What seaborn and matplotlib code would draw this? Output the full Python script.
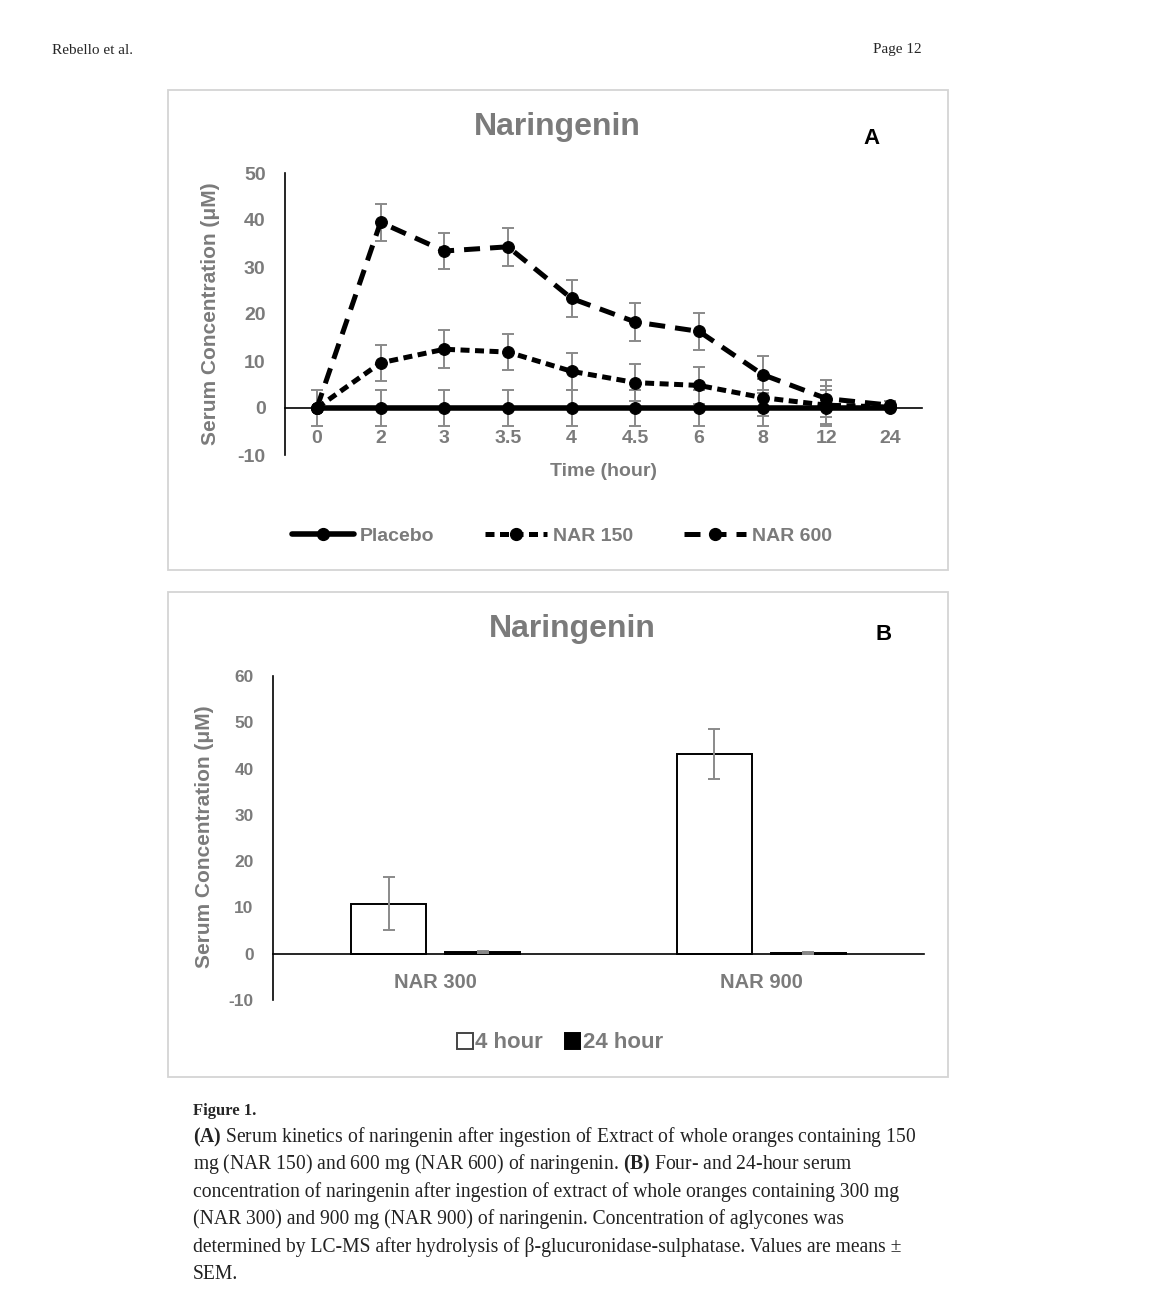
import numpy as np
import pandas as pd
import matplotlib
matplotlib.use("Agg")
import matplotlib.pyplot as plt
import seaborn as sns
from matplotlib.patches import Rectangle, Patch
from matplotlib.lines import Line2D

# ---- Data: panel A (serum kinetics) ----
time_labels = ["0", "2", "3", "3.5", "4", "4.5", "6", "8", "12", "24"]
placebo = [0, 0, 0, 0, 0, 0, 0, 0, 0, 0]
placebo_sem = [3.8, 3.8, 3.8, 3.8, 3.8, 3.8, 3.8, 3.8, 3.8, 0.3]
nar150 = [0, 9.6, 12.5, 11.9, 7.8, 5.4, 4.8, 2.2, 0.6, 0.2]
nar150_sem = [0, 3.9, 4.0, 3.9, 4.0, 3.9, 4.0, 4.0, 4.0, 0.5]
nar600 = [0, 39.5, 33.4, 34.3, 23.3, 18.3, 16.3, 7.1, 2.0, 0.6]
nar600_sem = [0, 3.9, 3.9, 4.0, 4.0, 4.0, 4.0, 4.0, 4.0, 0.8]

# ---- Data: panel B (4 h / 24 h) ----
doses = ["NAR 300", "NAR 900"]
hours = ["4 hour", "24 hour"]
conc_4h = [10.8, 43.2]
sem_4h = [5.7, 5.4]
conc_24h = [0.3, 0.2]
sem_24h = [0.2, 0.2]

W, H = 1152, 1295
GRAY = "#7b7b7b"
SANS = "Liberation Sans"
SERIF = "Liberation Serif"

sns.set_style("white")
plt.rcParams["font.family"] = [SANS, "DejaVu Sans"]
plt.rcParams["axes.unicode_minus"] = False
plt.rcParams["mathtext.fontset"] = "custom"
plt.rcParams["mathtext.rm"] = SERIF
plt.rcParams["mathtext.bf"] = SERIF + ":bold"


def fx(x):
    return x / W


def fy(y):
    return 1 - y / H


fig = plt.figure(figsize=(W / 100, H / 100), dpi=100)

# page header
fig.text(fx(52), fy(50), "Rebello et al.", family=SERIF, fontsize=11, va="center", ha="left")
fig.text(fx(922), fy(50), "Page 12", family=SERIF, fontsize=11, va="center", ha="right")

# panel frames
for top, bot in [(90, 570), (592, 1077)]:
    fig.add_artist(Rectangle((fx(168), fy(bot)), fx(948) - fx(168), fy(top) - fy(bot),
                             transform=fig.transFigure, fill=False,
                             edgecolor="#d4d4d4", lw=1.3))

# ---- Panel A ----
axA = fig.add_axes([fx(285), fy(455), fx(922) - fx(285), fy(173) - fy(455)])
series = [
    ("Placebo", placebo, placebo_sem, "-", 4.0),
    ("NAR 150", nar150, nar150_sem, (0, (1.8, 1.1)), 3.6),
    ("NAR 600", nar600, nar600_sem, (0, (3.2, 2.0)), 3.6),
]
handles = []
for name, vals, sem, ls, lw in series:
    axA.errorbar(time_labels, vals, yerr=sem, fmt="none", ecolor="#8a8a8a",
                 elinewidth=1.4, capsize=4, capthick=1.4, zorder=1)
for name, vals, sem, ls, lw in series:
    sns.lineplot(x=time_labels, y=vals, ax=axA, color="black", lw=lw, linestyle=ls,
                 marker="o", markersize=8.5, markeredgecolor="black", sort=False,
                 zorder=3)
    handles.append(Line2D([], [], color="black", lw=lw, linestyle=ls,
                          marker="o", markersize=8.5, label=name))

axA.set_xlim(-0.5, 9.5)
axA.set_ylim(-10, 50)
axA.set_yticks([-10, 0, 10, 20, 30, 40, 50])
axA.spines["top"].set_visible(False)
axA.spines["right"].set_visible(False)
axA.spines["bottom"].set_position(("data", 0))
for s in ["left", "bottom"]:
    axA.spines[s].set_color("black")
    axA.spines[s].set_linewidth(1.2)
axA.tick_params(axis="y", length=0, pad=14, labelsize=14, labelcolor=GRAY)
axA.tick_params(axis="x", length=0, pad=15.5, labelsize=14, labelcolor=GRAY)
for lab in axA.get_xticklabels() + axA.get_yticklabels():
    lab.set_fontweight("bold")
axA.set_xlabel("")
axA.set_ylabel("")

fig.text(fx(557), fy(127), "Naringenin", fontsize=23, fontweight="bold", color=GRAY,
         ha="center", va="center")
fig.text(fx(872), fy(138), "A", fontsize=16, fontweight="bold", color="black",
         ha="center", va="center")
fig.text(fx(211), fy(314), "Serum Concentration (μM)", fontsize=15, fontweight="bold",
         color=GRAY, rotation=90, ha="center", va="center")
fig.text(fx(603), fy(472), "Time (hour)", fontsize=14, fontweight="bold", color=GRAY,
         ha="center", va="center")
legA = fig.legend(handles=handles, loc="center", bbox_to_anchor=(fx(562), fy(536)),
                  ncol=3, frameon=False, handlelength=3.2, handletextpad=0.3,
                  columnspacing=2.6, prop={"family": SANS, "weight": "bold", "size": 14})
for t in legA.get_texts():
    t.set_color(GRAY)

# ---- Panel B ----
axB = fig.add_axes([fx(273), fy(1000), fx(924) - fx(273), fy(676) - fy(1000)])
dfB = pd.DataFrame({
    "dose": doses * 2,
    "hour": [hours[0]] * 2 + [hours[1]] * 2,
    "conc": conc_4h + conc_24h,
})
sns.barplot(data=dfB, x="dose", y="conc", hue="hour", order=doses, hue_order=hours,
            palette={"4 hour": "white", "24 hour": "black"}, errorbar=None,
            width=0.577, gap=0.2, edgecolor="black", linewidth=1.4, legend=False,
            ax=axB, zorder=2)
for cont, vals, sem in zip(axB.containers, [conc_4h, conc_24h], [sem_4h, sem_24h]):
    xs = [p.get_x() + p.get_width() / 2 for p in cont.patches]
    axB.errorbar(xs, vals, yerr=sem, fmt="none", ecolor="#8a8a8a", elinewidth=1.4,
                 capsize=4, capthick=1.4, zorder=3)

axB.set_xlim(-0.5, 1.5)
axB.set_ylim(-10, 60)
axB.set_yticks([-10, 0, 10, 20, 30, 40, 50, 60])
axB.spines["top"].set_visible(False)
axB.spines["right"].set_visible(False)
axB.spines["bottom"].set_position(("data", 0))
for s in ["left", "bottom"]:
    axB.spines[s].set_color("black")
    axB.spines[s].set_linewidth(1.2)
axB.tick_params(axis="y", length=0, pad=14, labelsize=12.5, labelcolor=GRAY)
axB.tick_params(axis="x", length=0, pad=14, labelsize=14.5, labelcolor=GRAY)
for lab in axB.get_xticklabels() + axB.get_yticklabels():
    lab.set_fontweight("bold")
axB.set_xlabel("")
axB.set_ylabel("")

fig.text(fx(572), fy(629), "Naringenin", fontsize=23, fontweight="bold", color=GRAY,
         ha="center", va="center")
fig.text(fx(884), fy(634), "B", fontsize=16, fontweight="bold", color="black",
         ha="center", va="center")
fig.text(fx(205), fy(837), "Serum Concentration (μM)", fontsize=15, fontweight="bold",
         color=GRAY, rotation=90, ha="center", va="center")
hB = [Patch(facecolor="white", edgecolor="#444444", lw=1.4, label="4 hour"),
      Patch(facecolor="black", edgecolor="black", lw=1.4, label="24 hour")]
legB = fig.legend(handles=hB, loc="center", bbox_to_anchor=(fx(560), fy(1043)),
                  ncol=2, frameon=False, handlelength=0.7, handleheight=0.7,
                  handletextpad=0.1, columnspacing=1.0,
                  prop={"family": SANS, "weight": "bold", "size": 16})
for t in legB.get_texts():
    t.set_color(GRAY)

# ---- Caption ----
caption = [
    r"$\mathbf{(A)}$ Serum kinetics of naringenin after ingestion of Extract of whole oranges containing 150",
    r"mg (NAR 150) and 600 mg (NAR 600) of naringenin. $\mathbf{(B)}$ Four- and 24-hour serum",
    "concentration of naringenin after ingestion of extract of whole oranges containing 300 mg",
    "(NAR 300) and 900 mg (NAR 900) of naringenin. Concentration of aglycones was",
    "determined by LC-MS after hydrolysis of β-glucuronidase-sulphatase. Values are means ±",
    "SEM.",
]
fig.text(fx(193), fy(1111), "Figure 1.", family=SERIF, fontsize=12, fontweight="bold",
         ha="left", va="center")
for i, line in enumerate(caption):
    fig.text(fx(193), fy(1137 + 27.5 * i), line, family=SERIF, fontsize=14.1,
             ha="left", va="center", color="#222222")

fig.savefig("out.png", dpi=100)
